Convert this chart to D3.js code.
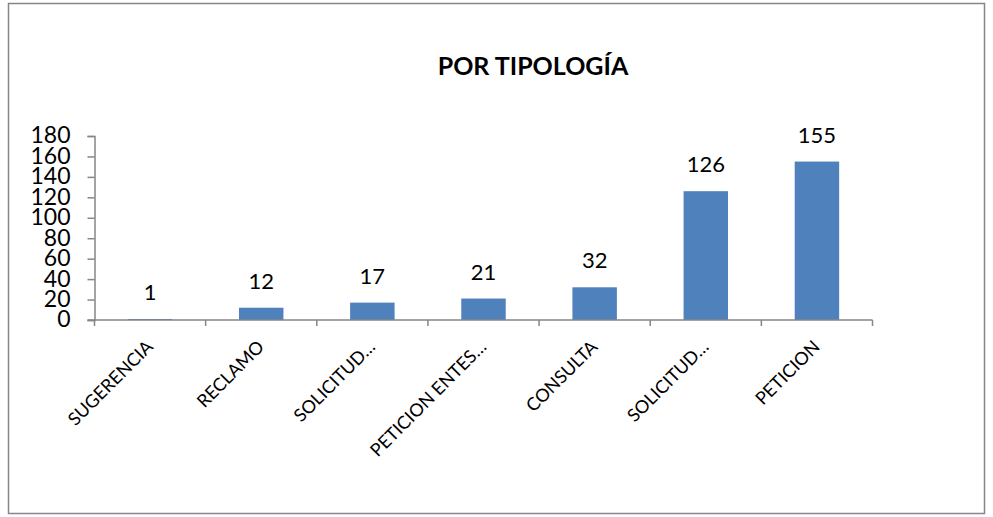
<!DOCTYPE html>
<html>
<head>
<meta charset="utf-8">
<script src="https://cdn.jsdelivr.net/npm/d3@7"></script>
<style>
  body { margin: 0; background: #fff; }
  svg text { font-family: Lato, "Open Sans", sans-serif; fill: #000; }
</style>
</head>
<body>
<div id="chart"></div>
<script>
const categories = ["SUGERENCIA", "RECLAMO", "SOLICITUD…", "PETICION ENTES…", "CONSULTA", "SOLICITUD…", "PETICION"];
const values = [1, 12, 17, 21, 32, 126, 155];
const yTicks = [0, 20, 40, 60, 80, 100, 120, 140, 160, 180];
const title = "POR TIPOLOGÍA";

const WIDTH = 993, HEIGHT = 517;
const AXIS_COLOR = "#868686";
const BAR_COLOR = "#4f81bd";

const svg = d3.select("#chart")
    .append("svg")
    .attr("width", WIDTH)
    .attr("height", HEIGHT);

// outer frame
svg.append("rect")
    .attr("x", 8.5).attr("y", 3.5)
    .attr("width", 976).attr("height", 510)
    .attr("fill", "none")
    .attr("stroke", AXIS_COLOR)
    .attr("stroke-width", 1.5);

svg.append("text")
    .attr("x", 533).attr("y", 75)
    .attr("text-anchor", "middle")
    .style("font-size", "25px")
    .style("font-weight", "bold")
    .text(title);

const plotLeft = 94.5, plotRight = 872.5, plotTop = 136, plotBottom = 320;

const x = d3.scaleBand()
    .domain(d3.range(categories.length))
    .range([plotLeft, plotRight])
    .paddingInner(0.6)
    .paddingOuter(0.3);

const y = d3.scaleLinear()
    .domain([0, 180])
    .range([plotBottom, plotTop]);

// y axis
const yAxis = svg.append("g")
    .attr("transform", `translate(${plotLeft},0)`)
    .call(d3.axisLeft(y).tickValues(yTicks).tickSize(7).tickPadding(17));
yAxis.select(".domain").attr("stroke", AXIS_COLOR).attr("stroke-width", 1.5);
yAxis.selectAll(".tick line").attr("stroke", AXIS_COLOR).attr("stroke-width", 1.5);
yAxis.selectAll(".tick text").style("font-size", "23px").attr("dy", "0.3em");

// bars
svg.selectAll("rect.bar")
    .data(values)
    .join("rect")
    .attr("class", "bar")
    .attr("x", (d, i) => x(i))
    .attr("width", x.bandwidth())
    .attr("y", d => y(d))
    .attr("height", d => Math.max(1, plotBottom - y(d)))
    .attr("fill", BAR_COLOR);

// x axis with boundary ticks
const step = (plotRight - plotLeft) / categories.length;
const xg = svg.append("g");
xg.append("line")
    .attr("x1", plotLeft - 7).attr("x2", plotRight)
    .attr("y1", plotBottom).attr("y2", plotBottom)
    .attr("stroke", AXIS_COLOR).attr("stroke-width", 1.5);
xg.selectAll("line.tick")
    .data(d3.range(categories.length + 1))
    .join("line")
    .attr("class", "tick")
    .attr("x1", i => plotLeft + i * step).attr("x2", i => plotLeft + i * step)
    .attr("y1", plotBottom).attr("y2", plotBottom + 6)
    .attr("stroke", AXIS_COLOR).attr("stroke-width", 1.5);

// category labels
svg.selectAll("text.cat")
    .data(categories)
    .join("text")
    .attr("class", "cat")
    .attr("text-anchor", "end")
    .attr("transform", (d, i) => `translate(${x(i) + x.bandwidth() / 2 + 4},${plotBottom + 28}) rotate(-45)`)
    .style("font-size", "18px")
    .text(d => d);

// value labels
svg.selectAll("text.val")
    .data(values)
    .join("text")
    .attr("class", "val")
    .attr("text-anchor", "middle")
    .attr("x", (d, i) => x(i) + x.bandwidth() / 2)
    .attr("y", d => y(d) - 19)
    .style("font-size", "22px")
    .text(d => d);
</script>
</body>
</html>
